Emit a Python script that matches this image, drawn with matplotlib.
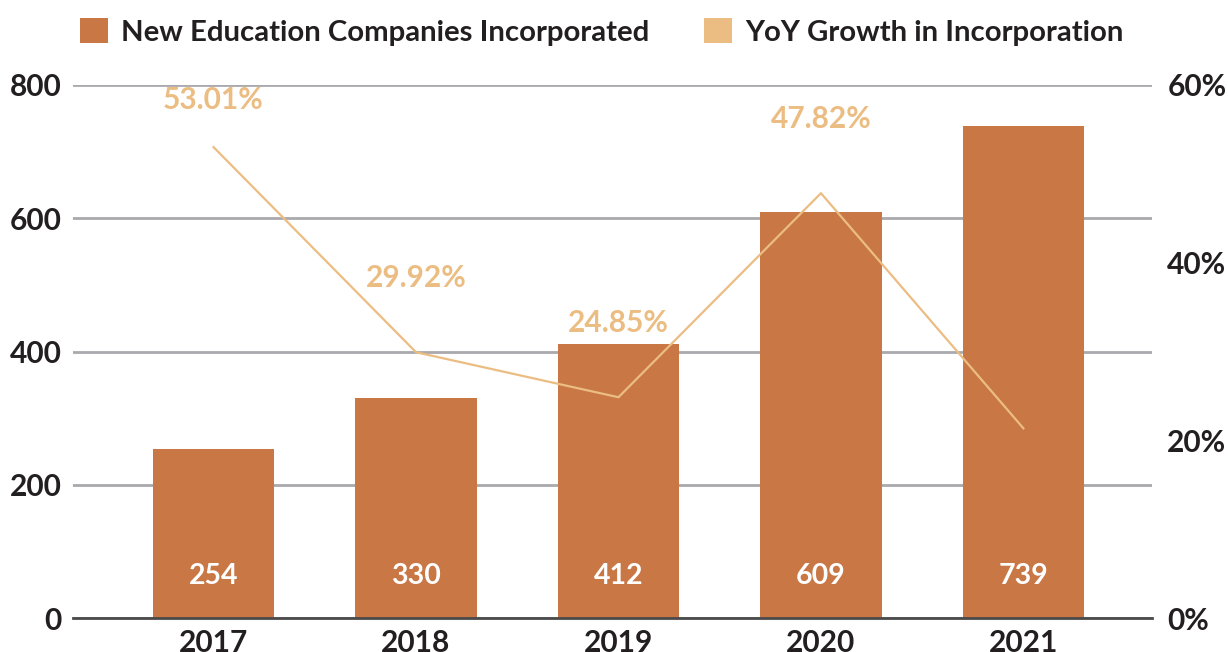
import matplotlib
matplotlib.use("Agg")
import matplotlib.pyplot as plt
from matplotlib.patches import Patch

# data
years = ["2017", "2018", "2019", "2020", "2021"]
companies = [254, 330, 412, 609, 739]
yoy_growth = [53.01, 29.92, 24.85, 47.82, 21.35]
yoy_labels = ["53.01%", "29.92%", "24.85%", "47.82%", None]

bar_color = "#C87745"
line_color = "#EBBD82"
text_color = "#231F20"
grid_color = "#A9A9AE"

plt.rcParams["font.family"] = ["Lato", "DejaVu Sans"]

fig = plt.figure(figsize=(12.28, 6.52), dpi=100)
ax = fig.add_axes([73 / 1228, 1 - 618 / 652, (1152 - 73) / 1228, (618 - 85) / 652])
ax2 = ax.twinx()

x = list(range(len(years)))
ax.bar(x, companies, width=0.6, color=bar_color, zorder=2)
for xi, v in zip(x, companies):
    ax.annotate(str(v), (xi, 0), xytext=(0, 30.5), textcoords="offset points",
                ha="center", va="center", color="white", fontsize=20.5,
                fontweight="bold", zorder=5)

ax.set_ylim(0, 800)
ax.set_yticks([0, 200, 400, 600, 800])
ax.set_xlim(-0.694, 4.635)
ax.set_xticks(x)
ax.set_xticklabels(years)

ax.grid(axis="y", color=grid_color, linewidth=2, zorder=0)
ax.set_axisbelow(True)
for s in ["top", "left", "right"]:
    ax.spines[s].set_visible(False)
ax.spines["bottom"].set_color("#4A4A4A")
ax.spines["bottom"].set_linewidth(2)
ax.spines["bottom"].set_zorder(3)
ax.tick_params(axis="y", length=0, pad=8, labelsize=21.5, labelcolor=text_color)
ax.tick_params(axis="x", length=0, pad=8, labelsize=21.5, labelcolor=text_color)
for lab in ax.get_yticklabels() + ax.get_xticklabels():
    lab.set_fontweight("bold")

# growth line on the right axis
ax2.plot(x, yoy_growth, color=line_color, linewidth=1.6, zorder=4)
ax2.set_ylim(0, 60)
ax2.set_yticks([0, 20, 40, 60])
ax2.set_yticklabels(["0%", "20%", "40%", "60%"])
ax2.tick_params(axis="y", length=0, pad=11, labelsize=21.5, labelcolor=text_color)
for lab in ax2.get_yticklabels():
    lab.set_fontweight("bold")
for s in ax2.spines.values():
    s.set_visible(False)

for xi, v, lab in zip(x, yoy_growth, yoy_labels):
    if lab is None:
        continue
    ly = min(v + 8.4, 58.3)
    ax2.text(xi, ly, lab, ha="center", va="center", color=line_color,
             fontsize=21.5, fontweight="bold")

handles = [Patch(facecolor=bar_color, label="New Education Companies Incorporated"),
           Patch(facecolor=line_color, label="YoY Growth in Incorporation")]
leg = fig.legend(handles=handles, loc="center", bbox_to_anchor=(0.49, 1 - 32 / 652),
                 ncol=2, frameon=False, handlelength=0.95, handleheight=0.95,
                 handletextpad=0.45, columnspacing=1.85,
                 prop={"weight": "bold", "size": 21.2})
for t in leg.get_texts():
    t.set_color(text_color)

fig.savefig("out.png", dpi=100)
